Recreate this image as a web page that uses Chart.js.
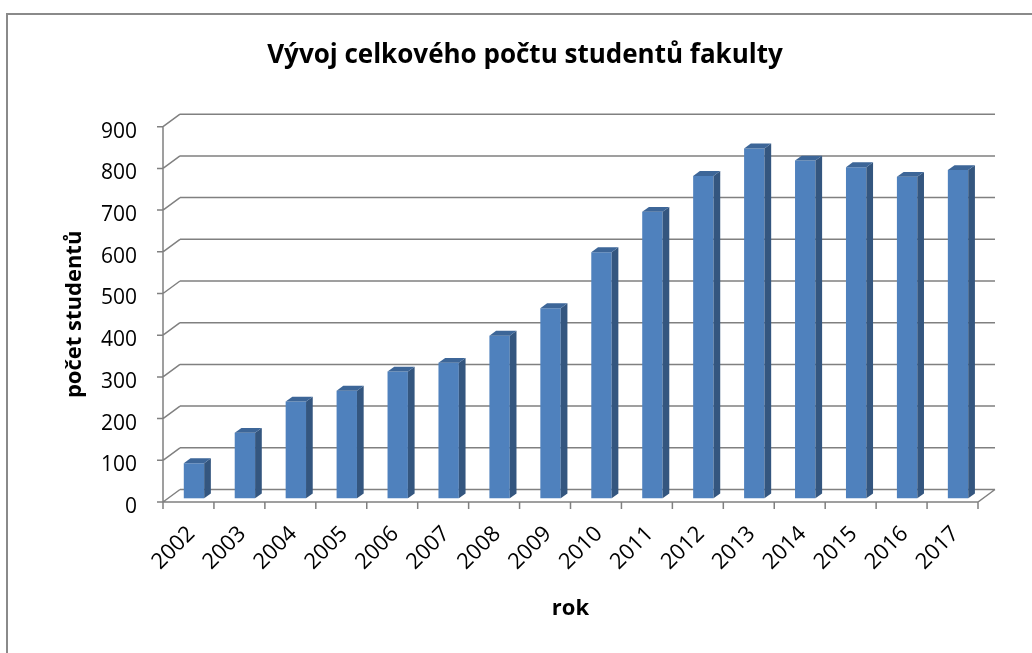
<!DOCTYPE html>
<html lang="cs">
<head>
<meta charset="utf-8">
<title>Vývoj celkového počtu studentů fakulty</title>
<script src="https://cdn.jsdelivr.net/npm/chart.js@4"></script>
<style>
  html, body { margin: 0; padding: 0; background: #fff; }
  #wrap { position: relative; width: 1032px; height: 653px; overflow: hidden; }
  #frame {
    position: absolute; left: 6px; top: 13px; width: 1040px; height: 660px;
    border-left: 2px solid #8a8a8a; border-top: 2px solid #8a8a8a;
    pointer-events: none;
  }
  canvas { position: absolute; left: 0; top: 0; }
</style>
</head>
<body>
<div id="wrap">
  <canvas id="studentsChart" width="1032" height="653"></canvas>
  <div id="frame"></div>
</div>
<script>
// data
const years = ['2002','2003','2004','2005','2006','2007','2008','2009',
               '2010','2011','2012','2013','2014','2015','2016','2017'];
const students = [84, 157, 232, 258, 304, 325, 390, 456,
                  590, 687, 773, 839, 810, 794, 771, 787];
const yTicks = [0, 100, 200, 300, 400, 500, 600, 700, 800, 900];

document.addEventListener('DOMContentLoaded', () => {
  // 1) 3D look: offsets of back wall, bar plane and bar depth
  const wall  = { x: 17,  y: 12.5 };
  const shift = { x: 5.5, y: 3.7 };
  const depth = { x: 6.7, y: 4.9 };
  const gridColor = '#808080';
  const sideColor = '#34567f';
  const topColor  = '#3d6698';

  const fakeThreeD = {
    id: 'fakeThreeD',
    beforeDatasetsDraw(chart) {
      const { ctx, chartArea: a, scales: { y } } = chart;
      ctx.save();
      ctx.strokeStyle = gridColor;
      ctx.lineWidth = 1.5;
      ctx.beginPath();
      yTicks.forEach(v => {
        const py = y.getPixelForValue(v);
        // back wall line + left side edge + small tick
        ctx.moveTo(a.left + wall.x, py - wall.y);
        ctx.lineTo(a.right + wall.x, py - wall.y);
        ctx.moveTo(a.left, py);
        ctx.lineTo(a.left + wall.x, py - wall.y);
        ctx.moveTo(a.left - 6, py);
        ctx.lineTo(a.left, py);
      });
      // front axis, floor edge and x ticks
      const y0 = y.getPixelForValue(0);
      ctx.moveTo(a.left, y.getPixelForValue(900));
      ctx.lineTo(a.left, y0);
      ctx.lineTo(a.right, y0);
      ctx.lineTo(a.right + wall.x, y0 - wall.y);
      const step = (a.right - a.left) / years.length;
      for (let i = 0; i <= years.length; i++) {
        ctx.moveTo(a.left + i * step, y0);
        ctx.lineTo(a.left + i * step, y0 + 7);
      }
      ctx.stroke();
      ctx.restore();

      // bars sit a bit behind the front plane
      ctx.save();
      ctx.translate(shift.x, -shift.y);
    },
    afterDatasetsDraw(chart) {
      const ctx = chart.ctx;
      chart.getDatasetMeta(0).data.forEach(bar => {
        const l = bar.x - bar.width / 2, r = bar.x + bar.width / 2;
        ctx.fillStyle = sideColor;
        ctx.beginPath();
        ctx.moveTo(r, bar.y);
        ctx.lineTo(r + depth.x, bar.y - depth.y);
        ctx.lineTo(r + depth.x, bar.base - depth.y);
        ctx.lineTo(r, bar.base);
        ctx.closePath();
        ctx.fill();
        ctx.fillStyle = topColor;
        ctx.beginPath();
        ctx.moveTo(l, bar.y);
        ctx.lineTo(l + depth.x, bar.y - depth.y);
        ctx.lineTo(r + depth.x, bar.y - depth.y);
        ctx.lineTo(r, bar.y);
        ctx.closePath();
        ctx.fill();
      });
      ctx.restore();
    }
  };

  // 2) chart
  const ctx = document.getElementById('studentsChart').getContext('2d');
  new Chart(ctx, {
    type: 'bar',
    data: {
      labels: years,
      datasets: [{
        label: 'počet studentů',
        data: students,
        backgroundColor: '#4f81bd',
        borderWidth: 0,
        categoryPercentage: 1,
        barPercentage: 0.4,
        clip: false
      }]
    },
    options: {
      responsive: false,
      animation: false,
      layout: { padding: { left: 72, right: 54, top: 0, bottom: 0 } },
      plugins: {
        legend: { display: false },
        tooltip: { enabled: false },
        title: {
          display: true,
          text: 'Vývoj celkového počtu studentů fakulty',
          color: '#000',
          font: { family: 'Open Sans', size: 26, weight: 'bold', lineHeight: 1.2 },
          padding: { top: 40.3, bottom: 55.2 }
        }
      },
      scales: {
        x: {
          offset: true,
          grid: { display: false, drawTicks: false },
          border: { display: false },
          ticks: {
            autoSkip: false, minRotation: 45, maxRotation: 45,
            padding: 19, labelOffset: 3,
            color: '#000', font: { family: 'Open Sans', size: 22 }
          },
          title: {
            display: true, text: 'rok', color: '#000',
            font: { family: 'Open Sans', size: 22, weight: 'bold', lineHeight: 1.2 },
            padding: { top: 0, bottom: 30.8 }
          },
          afterFit: s => { s.height = 151; }
        },
        y: {
          min: 0, max: 900,
          grid: { display: false, drawTicks: false },
          border: { display: false },
          ticks: {
            stepSize: 100, padding: 26, labelOffset: 5,
            color: '#000', font: { family: 'Open Sans', size: 21 }
          },
          title: {
            display: true, text: 'počet studentů', color: '#000',
            font: { family: 'Open Sans', size: 22, weight: 'bold', lineHeight: 1.2 },
            padding: { top: -10.2, bottom: 0 }
          },
          afterFit: s => { s.width = 91; }
        }
      }
    },
    plugins: [fakeThreeD]
  });
});
</script>
</body>
</html>
